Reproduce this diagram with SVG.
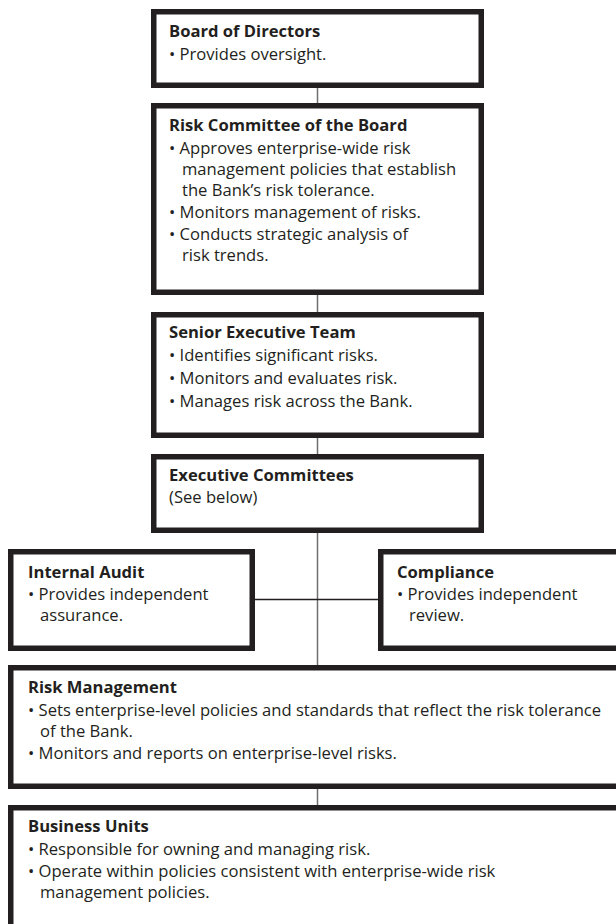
<svg xmlns="http://www.w3.org/2000/svg" width="616" height="924" viewBox="0 0 616 924">
<style>
.box{fill:#fff;stroke:#231f20;stroke-width:5.5}
.t{font-family:"Open Sans","Noto Sans","Liberation Sans",sans-serif;font-size:16.6px;fill:#231f20}
.h{font-weight:bold}
.con{stroke:#6d6e71;stroke-width:1.5;fill:none}
.hcon{stroke:#231f20;stroke-width:1.5;fill:none}
</style>
<rect width="616" height="924" fill="#fff"/>
<g id="connectors">
<line class="con" x1="317.5" y1="88" x2="317.5" y2="103"/>
<line class="con" x1="317.5" y1="295" x2="317.5" y2="312"/>
<line class="con" x1="317.5" y1="438" x2="317.5" y2="454"/>
<line class="con" x1="317.5" y1="533" x2="317.5" y2="665"/>
<line class="con" x1="317.5" y1="789" x2="317.5" y2="805"/>
<line class="hcon" x1="255" y1="599.5" x2="378" y2="599.5"/>
</g>
<g id="board">
<rect class="box" x="153.75" y="11.75" width="327.5" height="73.5"/>
<text class="t h" x="169" y="37">Board of Directors</text>
<text class="t" x="169" y="60">• Provides oversight.</text>
</g>
<g id="risk-committee">
<rect class="box" x="153.75" y="105.75" width="327.5" height="186.5"/>
<text class="t h" x="169" y="131">Risk Committee of the Board</text>
<text class="t" x="169" y="154">• Approves enterprise-wide risk</text>
<text class="t" x="182" y="175">management policies that establish</text>
<text class="t" x="182" y="196">the Bank’s risk tolerance.</text>
<text class="t" x="169" y="218">• Monitors management of risks.</text>
<text class="t" x="169" y="240">• Conducts strategic analysis of</text>
<text class="t" x="182" y="261">risk trends.</text>
</g>
<g id="senior">
<rect class="box" x="153.75" y="314.75" width="327.5" height="120.5"/>
<text class="t h" x="169" y="338">Senior Executive Team</text>
<text class="t" x="169" y="361">• Identifies significant risks.</text>
<text class="t" x="169" y="384">• Monitors and evaluates risk.</text>
<text class="t" x="169" y="407">• Manages risk across the Bank.</text>
</g>
<g id="exec">
<rect class="box" x="153.75" y="456.75" width="327.5" height="73.5"/>
<text class="t h" x="169" y="481">Executive Committees</text>
<text class="t" x="169" y="503">(See below)</text>
</g>
<g id="internal-audit">
<rect class="box" x="10.75" y="551.75" width="241.5" height="96.5"/>
<text class="t h" x="28" y="578">Internal Audit</text>
<text class="t" x="28" y="600">• Provides independent</text>
<text class="t" x="40" y="621">assurance.</text>
</g>
<g id="compliance">
<rect class="box" x="380.75" y="551.75" width="250" height="96.5"/>
<text class="t h" x="397" y="578">Compliance</text>
<text class="t" x="397" y="600">• Provides independent</text>
<text class="t" x="409" y="621">review.</text>
</g>
<g id="risk-management">
<rect class="box" x="10.75" y="667.75" width="620" height="118.5"/>
<text class="t h" x="28" y="693">Risk Management</text>
<text class="t" x="28" y="716">• Sets enterprise-level policies and standards that reflect the risk tolerance</text>
<text class="t" x="40" y="737">of the Bank.</text>
<text class="t" x="28" y="759">• Monitors and reports on enterprise-level risks.</text>
</g>
<g id="business-units">
<rect class="box" x="10.75" y="807.75" width="620" height="130"/>
<text class="t h" x="28" y="832">Business Units</text>
<text class="t" x="28" y="855">• Responsible for owning and managing risk.</text>
<text class="t" x="28" y="877">• Operate within policies consistent with enterprise-wide risk</text>
<text class="t" x="40" y="898">management policies.</text>
</g>
</svg>
